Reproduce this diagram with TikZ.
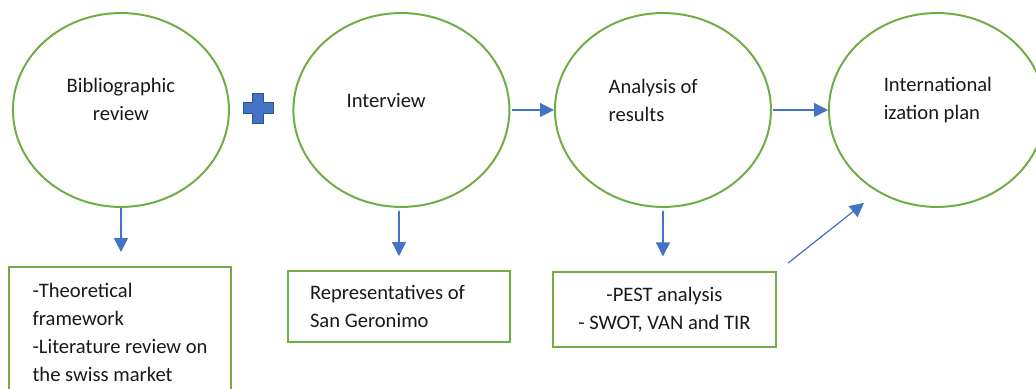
\documentclass[tikz,border=0pt]{standalone}
\usepackage{fontspec}
\setmainfont{Carlito}
\usetikzlibrary{shapes.geometric,arrows.meta,positioning}
\definecolor{stagegreen}{HTML}{70AD47}
\definecolor{flowblue}{HTML}{4472C4}
\definecolor{plusedge}{HTML}{2F528F}

\begin{document}
\begin{tikzpicture}[inner sep=1pt, >={Triangle[length=10.5pt,width=10.5pt]},
   stage/.style={ellipse, draw=stagegreen, line width=1.5pt, minimum width=5.715cm, minimum height=5.13cm},
   result/.style={rectangle, draw=stagegreen, line width=1.5pt, minimum width=5.87cm, inner sep=0pt, text=black!90, font=\fontsize{15.5}{21}\selectfont},
   words/.style={font=\fontsize{15.5}{21}\selectfont, align=left, text=black!90},
   flow/.style={->, draw=flowblue, fill=flowblue, line width=0.9pt}
   ]
   \useasboundingbox (0,0) rectangle (27.41,-10.266);

   % the four stages
   \path (3.20,-2.91) node[stage] (bib) {}
   (10.62,-2.91) node[stage] (intv) {};
   \path (17.54,-2.91) node[stage] (ana) {}
   (24.79,-2.91) node[stage] (intl) {};

   \path (3.20,-2.62) node[words, align=center] (bibtext) {Bibliographic\\review};
   \path (9.13,-2.65) node[words, anchor=west] (intvtext) {Interview};
   \path (16.06,-2.65) node[words, anchor=west] (anatext) {Analysis of\\results};
   \path (23.34,-2.65) node[words, anchor=west] (intltext) {International\\ization plan};

   % boxes below
   \path (3.175,-8.797) node[result, minimum height=3.466cm, align=left] (theory)
   {-Theoretical\\framework\\-Literature review on\\the swiss market};
   \path (10.557,-8.109) node[result, minimum height=1.878cm, align=flush left, text width=4.71cm] (reps)
   {Representatives of\\San Geronimo};
   \path (17.58,-8.189) node[result, minimum height=1.984cm, minimum width=5.90cm, align=center] (swot)
   {-PEST analysis\\- SWOT, VAN and TIR};

   \draw[flow, shorten >=10.5pt] (bib.south) -- (bib.south |- theory.north);
   \draw[flow, shorten <=2pt, shorten >=10.5pt] (intv.south -| reps.north) -- (reps.north);
   \draw[flow, shorten <=2pt, shorten >=11pt] (ana.south) -- (ana.south |- swot.north);

   \draw[flow, shorten <=1pt] (intv.east) -- (ana.west);
   \draw[flow, shorten <=1pt] (ana.east) -- (intl.west);

   \coordinate (swotcorner) at (20.85,-6.96);
   \coordinate (plantip) at (22.86,-5.37);
   \draw[flow] (swotcorner) -- (plantip);

   % plus sign
   \filldraw[fill=flowblue, draw=plusedge, line width=0.6pt] (6.83,-2.86) ++(-0.14,0.397) -- ++(0.28,0) -- ++(0,-0.257) -- ++(0.257,0) -- ++(0,-0.28) -- ++(-0.257,0) -- ++(0,-0.257) -- ++(-0.28,0) -- ++(0,0.257) -- ++(-0.257,0) -- ++(0,0.28) -- ++(0.257,0) -- cycle;

\end{tikzpicture}
\end{document}
